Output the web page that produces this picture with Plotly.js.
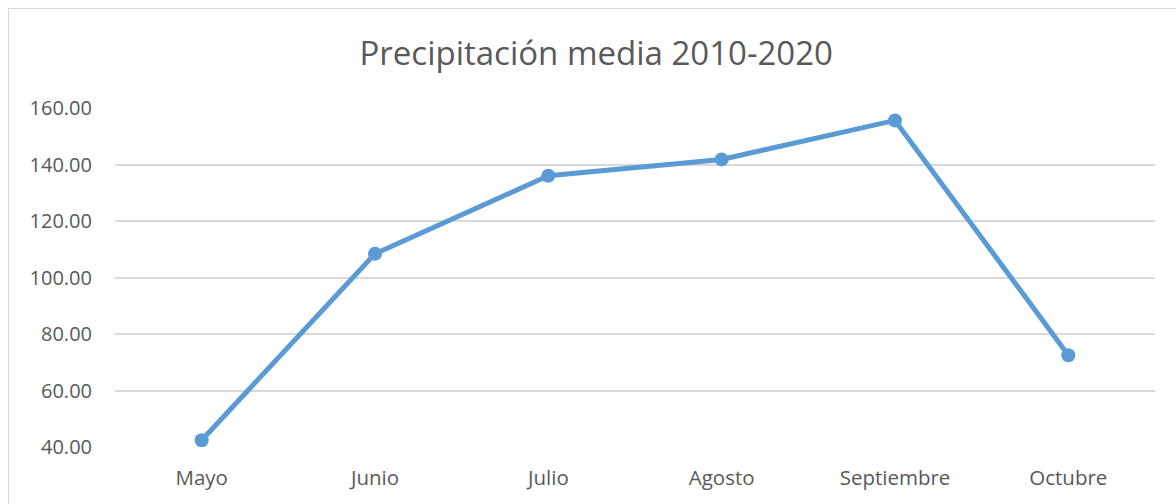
<!DOCTYPE html>
<html>
<head>
<meta charset="utf-8">
<script src="https://cdn.plot.ly/plotly-3.0.1.min.js"></script>
<style>
  html, body { margin: 0; padding: 0; background: #fff; }
  #wrap { position: relative; width: 1176px; height: 504px; overflow: hidden; }
  #chart { width: 1176px; height: 504px; }
  #frame { position: absolute; left: 8px; top: 8px; width: 1200px; height: 520px;
           border: 1.5px solid #D9D9D9; pointer-events: none; box-sizing: border-box; }
</style>
</head>
<body>
<div id="wrap">
  <div id="chart"></div>
  <div id="frame"></div>
</div>
<script>
const categories = ["Mayo", "Junio", "Julio", "Agosto", "Septiembre", "Octubre"];
const precipitation = [42.4, 108.4, 136.0, 141.8, 155.6, 72.5];
const yTicks = [40, 60, 80, 100, 120, 140, 160];
const chartTitle = "Precipitación media 2010-2020";

const fontFam = "Open Sans, Lato, sans-serif";
const textColor = "#595959";

Plotly.newPlot("chart", [{
  x: categories,
  y: precipitation,
  type: "scatter",
  mode: "lines+markers",
  line: { color: "#5B9BD5", width: 5 },
  marker: { color: "#5B9BD5", size: 14 },
  hoverinfo: "x+y"
}], {
  width: 1176,
  height: 504,
  margin: { l: 115, r: 21, t: 108, b: 57 },
  paper_bgcolor: "#ffffff",
  plot_bgcolor: "#ffffff",
  showlegend: false,
  title: {
    text: chartTitle,
    font: { family: fontFam, size: 33, color: textColor },
    x: 0.507, xanchor: "center",
    y: 0.893, yanchor: "middle", yref: "container"
  },
  xaxis: {
    type: "category",
    range: [-0.5, 5.5],
    showgrid: false,
    zeroline: false,
    showline: false,
    ticks: "",
    ticklabelstandoff: 16,
    tickfont: { family: fontFam, size: 20.5, color: textColor }
  },
  yaxis: {
    range: [40, 160],
    tickvals: yTicks,
    ticktext: yTicks.map(v => v.toFixed(2)),
    showgrid: true,
    gridcolor: "#D9D9D9",
    gridwidth: 2,
    zeroline: false,
    showline: false,
    ticks: "",
    ticklabelstandoff: 22,
    tickfont: { family: fontFam, size: 20, color: textColor }
  }
}, { displayModeBar: false, staticPlot: true });
</script>
</body>
</html>
